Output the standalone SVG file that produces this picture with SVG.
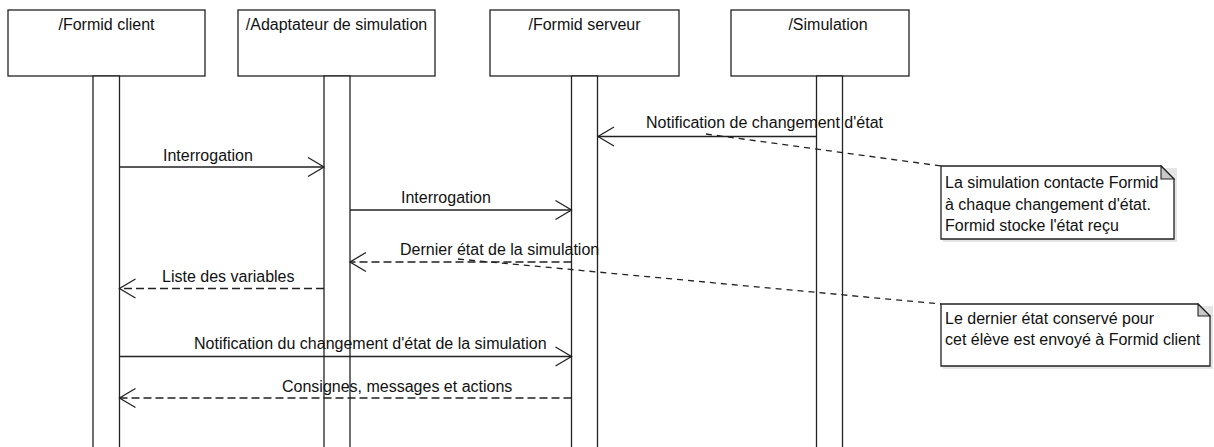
<svg xmlns="http://www.w3.org/2000/svg" width="1214" height="447" viewBox="0 0 1214 447">
<style>
  text { font-family: "Liberation Sans", Arial, sans-serif; font-size: 16px; fill: #111; }
  .box { fill: #fff; stroke: #222; stroke-width: 1.3; }
  .bar { fill: #fff; stroke: #222; stroke-width: 1.3; }
  .msg { fill: none; stroke: #222; stroke-width: 1.3; }
  .ret { fill: none; stroke: #222; stroke-width: 1.3; stroke-dasharray: 8,4; }
  .link { fill: none; stroke: #222; stroke-width: 1.3; stroke-dasharray: 6,5; }
  .note { fill: #fff; stroke: #222; stroke-width: 1.3; }
  .shadow { fill: #ccc; }
  .fold { fill: #c8c8c8; stroke: #222; stroke-width: 1.1; }
</style>
<defs>
  <marker id="open" markerUnits="userSpaceOnUse" markerWidth="20" markerHeight="22" viewBox="-18 -11 20 22" refX="0" refY="0" orient="auto">
    <path d="M -16 -9.5 L 0 0 L -16 9.5" fill="none" stroke="#222" stroke-width="1.3"/>
  </marker>
</defs>

<g id="client">
  <rect class="box" x="8" y="10" width="197" height="66"/>
  <text x="106.5" y="29.5" text-anchor="middle">/Formid client</text>
  <rect class="bar" x="93" y="76" width="26.5" height="380"/>
</g>
<g id="adaptateur">
  <rect class="box" x="238" y="10" width="197" height="66"/>
  <text x="336.5" y="29.5" text-anchor="middle">/Adaptateur de simulation</text>
  <rect class="bar" x="324" y="76" width="26" height="380"/>
</g>
<g id="serveur">
  <rect class="box" x="490" y="10" width="189" height="66"/>
  <text x="584.5" y="29.5" text-anchor="middle">/Formid serveur</text>
  <rect class="bar" x="571.5" y="76" width="26" height="380"/>
</g>
<g id="simulation">
  <rect class="box" x="731" y="10" width="178" height="66"/>
  <text x="828" y="29.5" text-anchor="middle">/Simulation</text>
  <rect class="bar" x="816.5" y="76" width="26" height="380"/>
</g>

<g id="note1">
  <path class="shadow" d="M 943 168 L 1177 168 L 1177 242 L 943 242 Z" opacity="0.5"/>
  <path class="note" d="M 941 166 L 1161 166 L 1174 179 L 1174 239 L 941 239 Z"/>
  <path class="fold" d="M 1161 166 L 1174 179 L 1161 179 Z"/>
  <text x="945" y="188">La simulation contacte Formid</text>
  <text x="945" y="209.5">à chaque changement d'état.</text>
  <text x="945" y="231">Formid stocke l'état reçu</text>
</g>
<g id="note2">
  <path class="shadow" d="M 943 306 L 1213 306 L 1213 369 L 943 369 Z" opacity="0.5"/>
  <path class="note" d="M 941 304 L 1198 304 L 1210 316 L 1210 366 L 941 366 Z"/>
  <path class="fold" d="M 1198 304 L 1210 316 L 1198 316 Z"/>
  <text x="945" y="323.5">Le dernier état conservé pour</text>
  <text x="945" y="345">cet élève est envoyé à Formid client</text>
</g>

<g id="connectors">
  <line class="msg" x1="816.5" y1="136.5" x2="598" y2="136.5" marker-end="url(#open)"/>
  <line class="msg" x1="119.5" y1="167" x2="324" y2="167" marker-end="url(#open)"/>
  <line class="msg" x1="350" y1="210" x2="571.5" y2="210" marker-end="url(#open)"/>
  <line class="ret" x1="571.5" y1="262" x2="350" y2="262" marker-end="url(#open)"/>
  <line class="ret" x1="324" y1="288.5" x2="119.5" y2="288.5" marker-end="url(#open)"/>
  <line class="msg" x1="119.5" y1="356.5" x2="571.5" y2="356.5" marker-end="url(#open)"/>
  <line class="ret" x1="571.5" y1="398" x2="119.5" y2="398" marker-end="url(#open)"/>
  <line class="link" x1="706" y1="134" x2="941" y2="166"/>
  <line class="link" x1="458" y1="259" x2="941" y2="304"/>
</g>

<g id="labels">
  <text x="646" y="128">Notification de changement d'état</text>
  <text x="163" y="161">Interrogation</text>
  <text x="401" y="203">Interrogation</text>
  <text x="400" y="255">Dernier état de la simulation</text>
  <text x="162" y="282">Liste des variables</text>
  <text x="194" y="348.5">Notification du changement d'état de la simulation</text>
  <text x="282" y="392">Consignes, messages et actions</text>
</g>
</svg>
